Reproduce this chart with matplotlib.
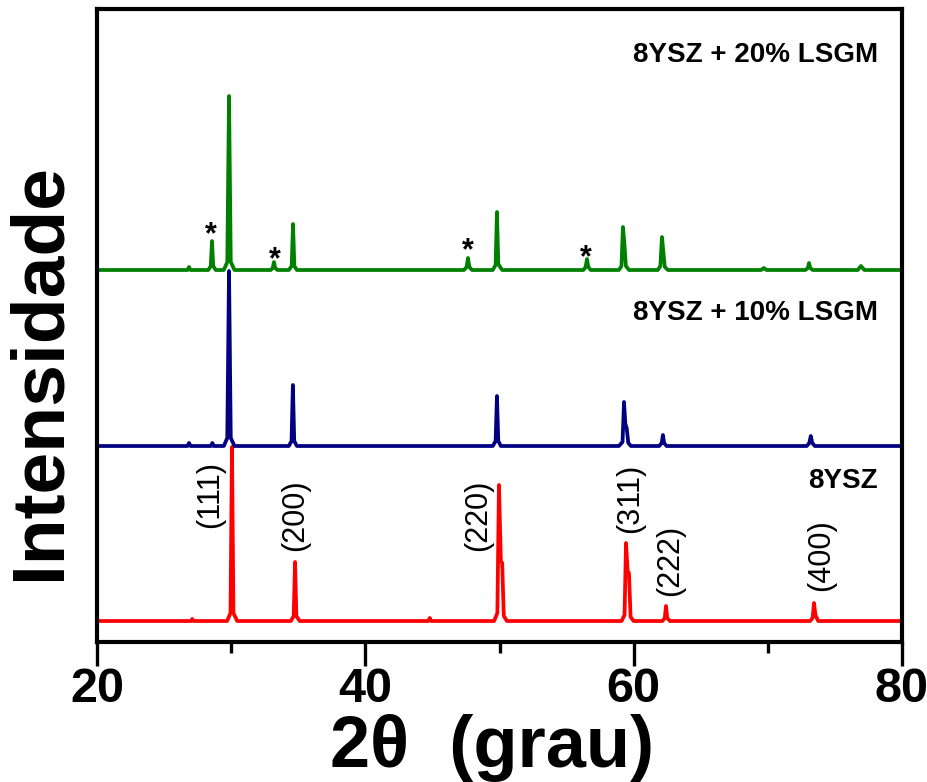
import numpy as np
import matplotlib
matplotlib.use("Agg")
import matplotlib.pyplot as plt

plt.rcParams['font.family'] = ['Liberation Sans', 'DejaVu Sans']

# XRD traces: 2theta and intensity above each baseline (a.u.)
x_ysz = [20, 27.0, 27.1, 27.2, 29.7, 29.95, 30.06, 30.17, 30.45,
         34.45, 34.66, 34.76, 34.86, 35.1, 44.7, 44.8, 44.9,
         49.6, 49.84, 49.96, 50.1, 50.2, 50.32, 50.55,
         59.1, 59.32, 59.43, 59.55, 59.65, 59.77, 60.0,
         62.15, 62.32, 62.41, 62.5, 62.7,
         73.15, 73.34, 73.44, 73.55, 73.75, 80]
y_ysz = [0, 0, 2, 0, 0, 8, 174, 8, 0,
         0, 5, 59, 5, 0, 0, 3, 0,
         0, 8, 136, 60, 58, 5, 0,
         0, 6, 78, 50, 48, 4, 0,
         0, 3, 15, 3, 0,
         0, 3, 18, 6, 0, 0]

x_10 = [20, 26.75, 26.86, 26.97, 28.5, 28.6, 28.7,
        29.45, 29.71, 29.84, 29.97, 30.25,
        34.3, 34.5, 34.6, 34.7, 34.9,
        49.5, 49.71, 49.81, 49.91, 50.1,
        58.9, 59.17, 59.28, 59.38, 59.48, 59.6, 59.8,
        61.9, 62.09, 62.18, 62.27, 62.45,
        72.9, 73.09, 73.2, 73.31, 73.5, 80]
y_10 = [0, 0, 3, 0, 0, 3, 0,
        0, 8, 175, 8, 0,
        0, 5, 61, 5, 0,
        0, 5, 50, 5, 0,
        0, 4, 44, 22, 18, 3, 0,
        0, 3, 11, 3, 0,
        0, 3, 10, 3, 0, 0]

x_20 = [20, 26.75, 26.86, 26.97, 28.3, 28.48, 28.57, 28.66, 28.85,
        29.45, 29.71, 29.84, 29.97, 30.25,
        32.95, 33.1, 33.19, 33.28, 33.45,
        34.3, 34.51, 34.61, 34.71, 34.9,
        47.35, 47.55, 47.65, 47.75, 47.95,
        49.5, 49.71, 49.81, 49.91, 50.0, 50.2,
        56.25, 56.42, 56.52, 56.62, 56.8,
        58.9, 59.09, 59.2, 59.3, 59.42, 59.65,
        61.8, 61.99, 62.11, 62.2, 62.32, 62.55,
        69.5, 69.7, 69.9,
        72.8, 72.98, 73.07, 73.16, 73.35,
        76.7, 76.94, 77.2, 80]
y_20 = [0, 0, 3, 0, 0, 4, 29, 4, 0,
        0, 8, 174, 8, 0,
        0, 2, 8, 2, 0,
        0, 4, 46, 4, 0,
        0, 3, 12, 3, 0,
        0, 5, 58, 6, 4, 0,
        0, 3, 11, 3, 0,
        0, 4, 43, 28, 4, 0,
        0, 4, 33, 20, 3, 0,
        0, 2, 0,
        0, 2, 7, 2, 0,
        0, 4, 0, 0]

offsets = [21, 196, 372]
names = ['8YSZ', '8YSZ + 10% LSGM', '8YSZ + 20% LSGM']
colors = ['#ff0000', '#000080', '#008000']

hkl = ['(111)', '(200)', '(220)', '(311)', '(222)', '(400)']
star_x = [28.50, 33.27, 47.65, 56.45]

fig = plt.figure(figsize=(9.28, 7.82), dpi=100)
ax = fig.add_axes([97/928, 1-642/782, 805/928, 633/782])

traces = [(x_ysz, y_ysz), (x_10, y_10), (x_20, y_20)]
for (xs, ys), off, c in zip(traces, offsets, colors):
    ax.plot(xs, np.array(ys) + off, color=c, lw=2.7)

ax.set_xlim(20, 80)
ax.set_ylim(0, 633)
ax.set_xticks([20, 40, 60, 80])
ax.set_xticks([30, 50, 70], minor=True)
ax.set_yticks([])
ax.tick_params(axis='x', which='major', direction='out', length=17, width=2.4,
               labelsize=35, pad=1)
ax.tick_params(axis='x', which='minor', direction='out', length=8, width=2.4)
for lab in ax.get_xticklabels():
    lab.set_fontweight('bold')
for sp in ax.spines.values():
    sp.set_linewidth(3)

# series names
for name, yy in zip(names, [161, 329, 587]):
    ax.text(78.21, yy, name, ha='right', va='center', fontsize=20, fontweight='bold')

# Miller indices of 8YSZ
hkl_pos = [(28.42, 147), (34.76, 127), (48.40, 127), (59.73, 144), (62.71, 82), (73.96, 87)]
for lab, (xx, yy) in zip(hkl, hkl_pos):
    ax.text(xx, yy, lab, rotation=90, ha='center', va='center', fontsize=22)

# LSGM secondary phase
for xx, yy in zip(star_x, [399, 374, 383, 376]):
    ax.text(xx, yy, '*', ha='center', va='baseline', fontsize=22, fontweight='bold')

fig.text(40/928, 1-371/782, 'Intensidade', rotation=90, ha='center', va='center',
         fontsize=54, fontweight='bold')
fig.text(492/928, 1-767/782, '2θ  (grau)', ha='center', va='baseline',
         fontsize=52, fontweight='bold')

fig.savefig('out.png', dpi=100)
